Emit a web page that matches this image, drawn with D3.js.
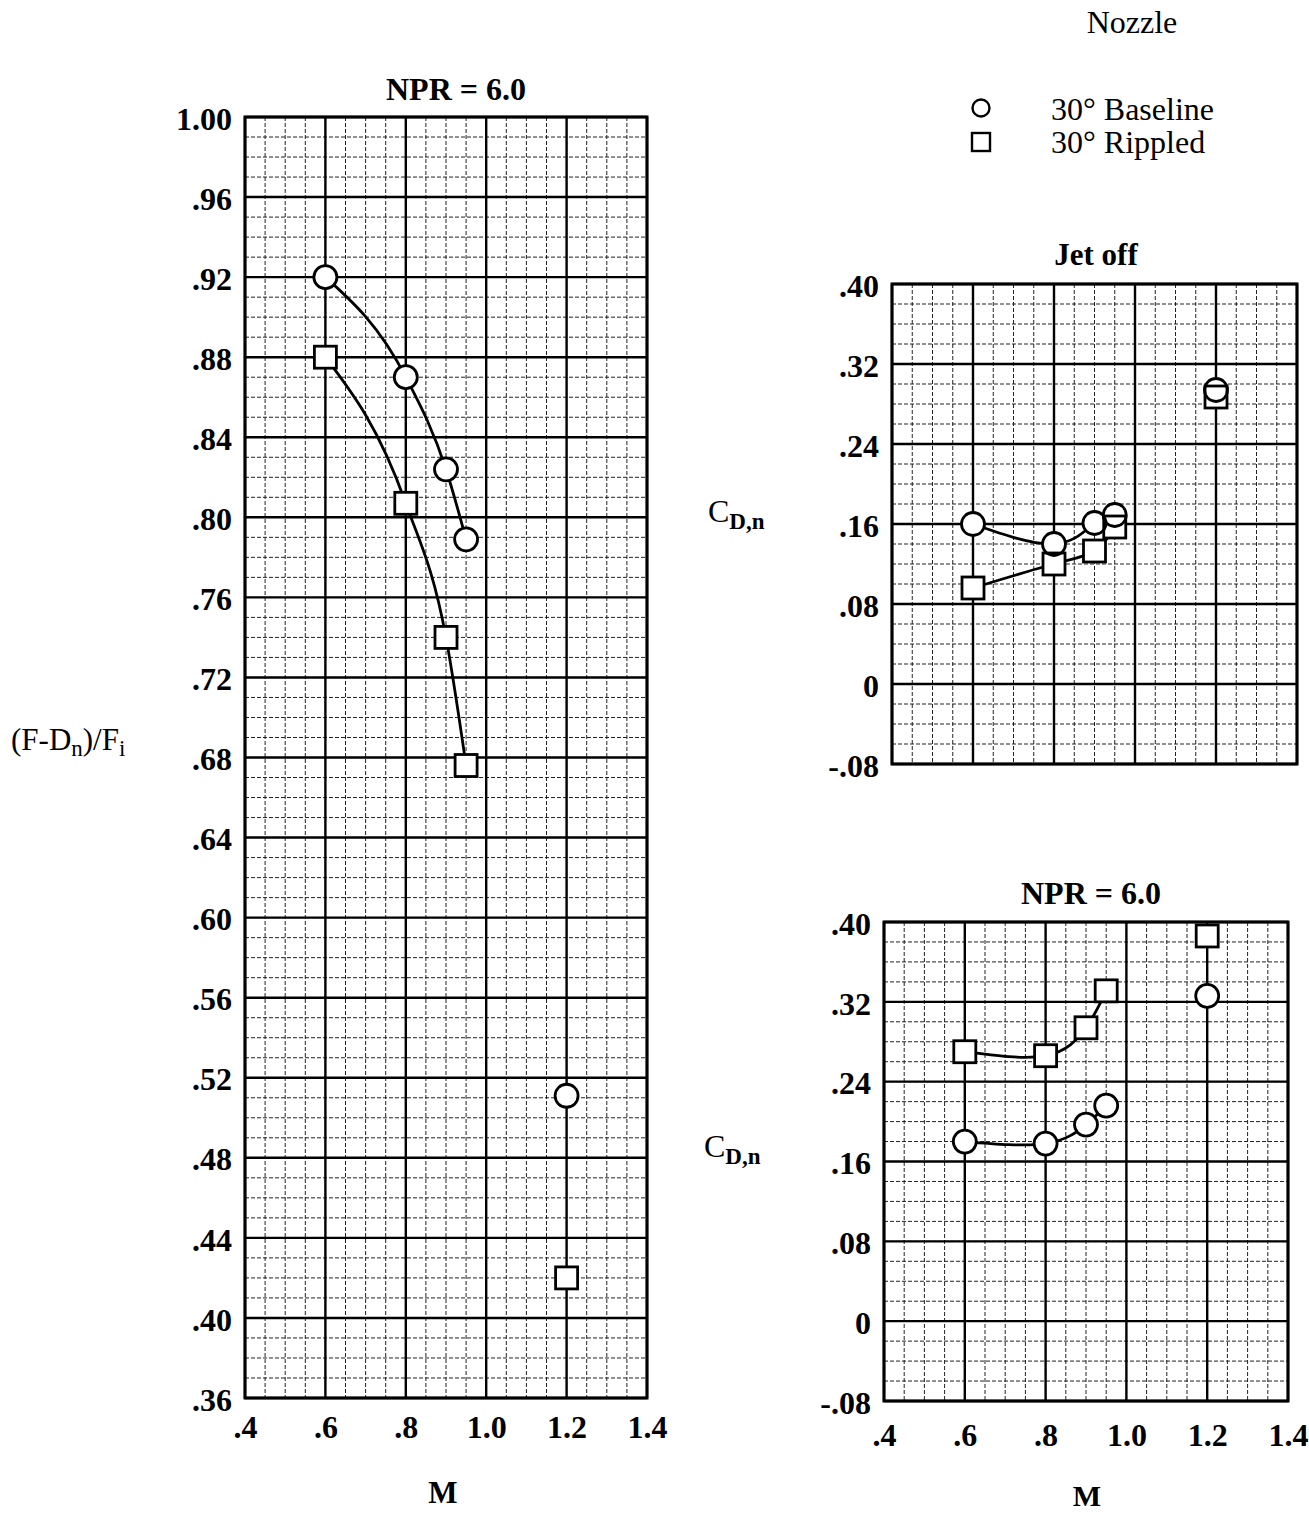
<!DOCTYPE html>
<html><head><meta charset="utf-8">
<script src="https://cdn.jsdelivr.net/npm/d3@7"></script>
<style>body{margin:0;background:#fff}svg{display:block}</style>
</head><body>
<script>
// ---------- DATA ----------
const mach = [0.6, 0.8, 0.9, 0.95, 1.2];
const thrustBaseline = [0.920, 0.870, 0.824, 0.789, 0.511];
const thrustRippled  = [0.880, 0.807, 0.740, 0.676, 0.420];
const cdJetOffBaseline = [0.160, 0.140, 0.161, 0.169, 0.294];
const cdJetOffRippled  = [0.096, 0.120, 0.133, 0.157, 0.287];
const cdNprBaseline = [0.180, 0.178, 0.197, 0.216, 0.326];
const cdNprRippled  = [0.270, 0.266, 0.294, 0.331, 0.386];
const faired = [true, true, true, true, false]; // points joined by the fairing curve

const xTickValues = [0.4, 0.6, 0.8, 1.0, 1.2, 1.4];
const xTickLabels = [".4", ".6", ".8", "1.0", "1.2", "1.4"];
const leftYTickValues = [0.36,0.40,0.44,0.48,0.52,0.56,0.60,0.64,0.68,0.72,0.76,0.80,0.84,0.88,0.92,0.96,1.00];
const leftYTickLabels = [".36",".40",".44",".48",".52",".56",".60",".64",".68",".72",".76",".80",".84",".88",".92",".96","1.00"];
const cdYTickValues = [-0.08, 0, 0.08, 0.16, 0.24, 0.32, 0.40];
const cdYTickLabels = ["-.08", "0", ".08", ".16", ".24", ".32", ".40"];
const legendLabels = ["30° Baseline", "30° Rippled"];

// ---------- DRAW ----------
const W = 1309, H = 1515;
const FONT = "'Liberation Serif','DejaVu Serif',serif";
const svg = d3.select("body").append("svg").attr("width", W).attr("height", H)
  .style("background", "#fff").style("font-family", FONT);
svg.append("rect").attr("width", W).attr("height", H).attr("fill", "#fff");

function panel(box, yDomain, yMajor, yMinor, yVals, yLabels, showX, xPad, curve, series) {
  const x = d3.scaleLinear().domain([0.4, 1.4]).range([box.x0, box.x1]);
  const y = d3.scaleLinear().domain(yDomain).range([box.y1, box.y0]);
  const g = svg.append("g");
  const eps = 1e-9;
  // minor grid
  const xMinor = d3.range(0.4, 1.4 + eps, 0.05).map(v => +v.toFixed(3));
  const yMinorV = d3.range(yDomain[0], yDomain[1] + eps, yMinor).map(v => +v.toFixed(3));
  g.append("g").selectAll("line").data(xMinor).join("line")
    .attr("x1", d => x(d)).attr("x2", d => x(d)).attr("y1", box.y0).attr("y2", box.y1)
    .attr("stroke", "#222").attr("stroke-width", 1).attr("stroke-dasharray", "4,2");
  g.append("g").selectAll("line").data(yMinorV).join("line")
    .attr("y1", d => y(d)).attr("y2", d => y(d)).attr("x1", box.x0).attr("x2", box.x1)
    .attr("stroke", "#222").attr("stroke-width", 1).attr("stroke-dasharray", "4,2");
  // major grid
  const xMajor = d3.range(0.4, 1.4 + eps, 0.2).map(v => +v.toFixed(3));
  const yMajorV = d3.range(yDomain[0], yDomain[1] + eps, yMajor).map(v => +v.toFixed(3));
  g.append("g").selectAll("line").data(xMajor).join("line")
    .attr("x1", d => x(d)).attr("x2", d => x(d)).attr("y1", box.y0).attr("y2", box.y1)
    .attr("stroke", "#000").attr("stroke-width", 2.4);
  g.append("g").selectAll("line").data(yMajorV).join("line")
    .attr("y1", d => y(d)).attr("y2", d => y(d)).attr("x1", box.x0).attr("x2", box.x1)
    .attr("stroke", "#000").attr("stroke-width", 2.4);
  g.append("rect").attr("x", box.x0).attr("y", box.y0)
    .attr("width", box.x1 - box.x0).attr("height", box.y1 - box.y0)
    .attr("fill", "none").attr("stroke", "#000").attr("stroke-width", 3);

  // axes
  const ya = g.append("g").attr("transform", `translate(${box.x0},0)`)
    .call(d3.axisLeft(y).tickValues(yVals).tickFormat((d, i) => yLabels[i]).tickSize(0).tickPadding(13));
  ya.select(".domain").remove();
  ya.selectAll("text").attr("font-family", FONT).attr("font-size", 32).attr("font-weight", "bold").attr("fill", "#000").attr("dy", "0.38em");
  if (showX) {
    const xa = g.append("g").attr("transform", `translate(0,${box.y1})`)
      .call(d3.axisBottom(x).tickValues(xTickValues).tickFormat((d, i) => xTickLabels[i]).tickSize(0).tickPadding(xPad));
    xa.select(".domain").remove();
    xa.selectAll("text").attr("font-family", FONT).attr("font-size", 32).attr("font-weight", "bold").attr("fill", "#000");
  }

  // curves
  const line = d3.line().x(d => x(d.m)).y(d => y(d.v)).curve(curve);
  series.forEach(s => {
    const pts = mach.map((m, i) => ({ m, v: s.vals[i], f: faired[i] }));
    g.append("path").datum(pts.filter(p => p.f)).attr("d", line)
      .attr("fill", "none").attr("stroke", "#000").attr("stroke-width", 2.8);
  });
  // marker fills (hide line inside), then outlines
  const drawMarkers = (fillPass) => {
    series.forEach(s => {
      const pts = mach.map((m, i) => ({ m, v: s.vals[i] }));
      const mg = g.append("g");
      if (s.shape === "circle") {
        mg.selectAll("circle").data(pts).join("circle")
          .attr("cx", d => x(d.m)).attr("cy", d => y(d.v)).attr("r", 11.5)
          .attr("fill", fillPass ? "#fff" : "none").attr("stroke", fillPass ? "none" : "#000").attr("stroke-width", 2.8);
      } else {
        mg.selectAll("rect").data(pts).join("rect")
          .attr("x", d => x(d.m) - 11).attr("y", d => y(d.v) - 11).attr("width", 22).attr("height", 22)
          .attr("fill", fillPass ? "#fff" : "none").attr("stroke", fillPass ? "none" : "#000").attr("stroke-width", 2.8);
      }
    });
  };
  drawMarkers(true);
  drawMarkers(false);
  return { x, y, g };
}

// Left panel
panel({ x0: 245, x1: 647, y0: 117, y1: 1398 }, [0.36, 1.00], 0.04, 0.01,
  leftYTickValues, leftYTickLabels, true, 17, d3.curveMonotoneX,
  [{ vals: thrustRippled, shape: "square" }, { vals: thrustBaseline, shape: "circle" }]);

// Top right panel (Jet off)
panel({ x0: 892, x1: 1297, y0: 284, y1: 764 }, [-0.08, 0.40], 0.08, 0.02,
  cdYTickValues, cdYTickLabels, false, 0, d3.curveNatural,
  [{ vals: cdJetOffRippled, shape: "square" }, { vals: cdJetOffBaseline, shape: "circle" }]);

// Bottom right panel (NPR = 6.0)
panel({ x0: 884, x1: 1288, y0: 922, y1: 1401 }, [-0.08, 0.40], 0.08, 0.02,
  cdYTickValues, cdYTickLabels, true, 22, d3.curveNatural,
  [{ vals: cdNprRippled, shape: "square" }, { vals: cdNprBaseline, shape: "circle" }]);

// ---------- TEXT ----------
function txt(x, y, s, size, weight, anchor) {
  return svg.append("text").attr("x", x).attr("y", y).text(s)
    .attr("font-size", size).attr("font-weight", weight || "normal")
    .attr("text-anchor", anchor || "start").attr("fill", "#000");
}
txt(456, 100, "NPR = 6.0", 32, "bold", "middle");
txt(1096, 265, "Jet off", 31, "bold", "middle");
txt(1091, 904, "NPR = 6.0", 32, "bold", "middle");
txt(443, 1503, "M", 31, "bold", "middle");
txt(1087, 1506, "M", 30, "bold", "middle");
txt(1132, 33, "Nozzle", 32, "normal", "middle");

// y label left
const yl = svg.append("text").attr("x", 11).attr("y", 750).attr("font-size", 31).attr("fill", "#000");
yl.append("tspan").text("(F-D");
yl.append("tspan").text("n").attr("font-size", 23).attr("dy", 6);
yl.append("tspan").text(")/F").attr("dy", -6);
yl.append("tspan").text("i").attr("font-size", 23).attr("dy", 6);

function cdLabel(x, y) {
  const t = svg.append("text").attr("x", x).attr("y", y).attr("font-size", 32).attr("fill", "#000");
  t.append("tspan").text("C");
  t.append("tspan").text("D,n").attr("font-size", 23).attr("font-weight", "bold").attr("dy", 7);
}
cdLabel(708, 522);
cdLabel(704, 1157);

// legend
svg.append("circle").attr("cx", 981).attr("cy", 108).attr("r", 8.5).attr("fill", "none").attr("stroke", "#000").attr("stroke-width", 2.4);
svg.append("rect").attr("x", 972).attr("y", 133).attr("width", 18).attr("height", 18).attr("fill", "none").attr("stroke", "#000").attr("stroke-width", 2.4);
txt(1051, 120, legendLabels[0], 32);
txt(1051, 153, legendLabels[1], 32);
</script>
</body></html>
